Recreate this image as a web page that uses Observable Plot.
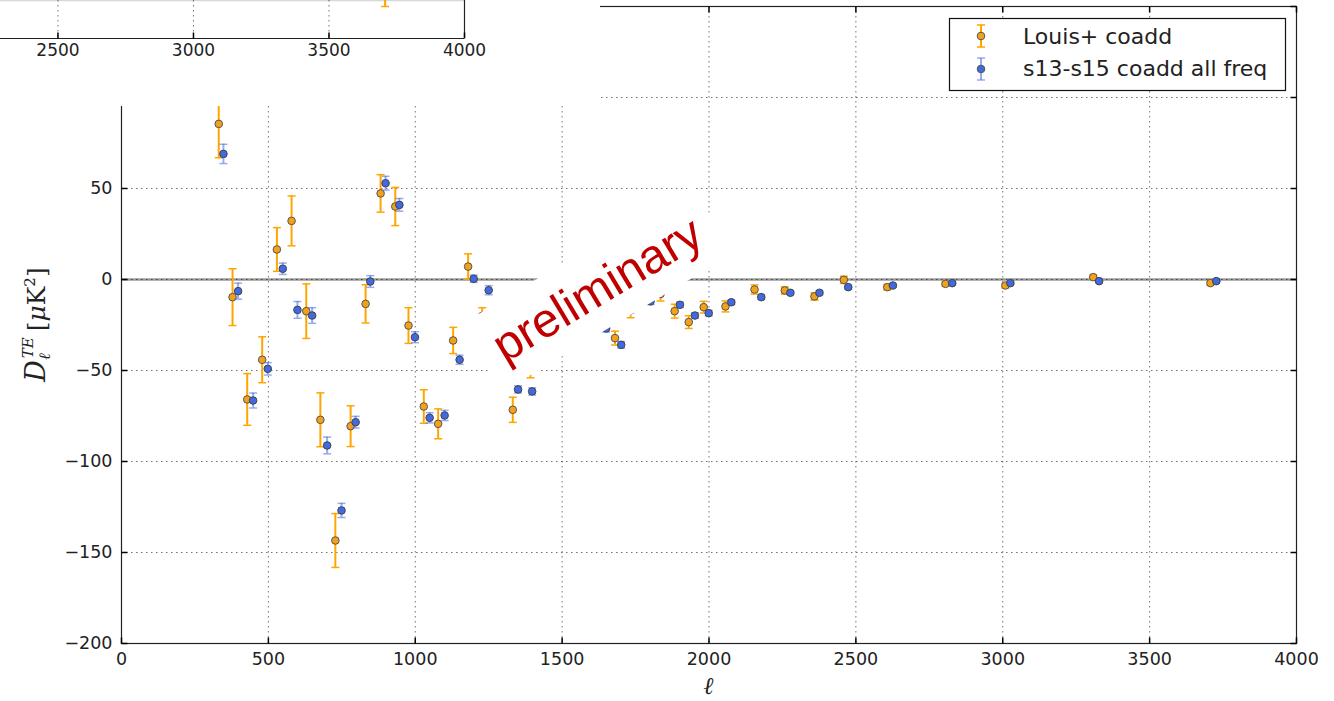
<!DOCTYPE html>
<html><head><meta charset="utf-8">
<script src="https://cdn.jsdelivr.net/npm/d3@7"></script>
<script src="https://cdn.jsdelivr.net/npm/@observablehq/plot@0.6"></script>
<style>
body{margin:0;background:#fff;}
#wrap{position:relative;width:1334px;height:701px;overflow:hidden;background:#fff;}
#inset{position:absolute;left:0;top:0;}
</style></head><body><div id="wrap"></div>
<script>
// ---- data ----
const seriesNames = ["Louis+ coadd", "s13-s15 coadd all freq"];
const louisEll = [331,378,428,479,529,579,629,677,728,780,831,882,932,977,1029,1078,1129,1180,1228,1332,1392,1680,1733,1835,1883,1931,1982,2056,2155,2258,2359,2459,2607,2805,3009,3308,3707];
const louisVal = [85.5,-9.7,-65.9,-44.1,16.5,32.2,-17.4,-77.1,-143.4,-80.6,-13.4,47.3,40.1,-25.3,-69.8,-79.3,-33.5,7.1,-20,-71.6,-47.5,-32.2,-17,-8,-17.4,-23.4,-15.2,-14.8,-5.5,-6.0,-9.3,-0.2,-4.2,-2.4,-3.3,1.3,-2.0];
const louisErr = [18.6,15.6,14.2,12.6,12,13.7,15,14.8,14.8,11.2,10.5,10.3,10.5,9.8,9.2,8.2,7.2,7,4.5,6.9,6.5,3.8,4,3.8,3.8,3.5,3.2,3,2.5,2,2,2,1.5,1.3,1.3,1.2,1.2];
const s13Ell = [347,397,448,498,549,599,649,700,749,797,847,899,946,999,1049,1100,1151,1199,1250,1350,1398,1650,1701,1801,1901,1952,1999,2076,2178,2277,2376,2474,2626,2828,3026,3328,3727];
const s13Val = [69,-6.4,-66.5,-49.1,5.9,-16.7,-19.8,-91.2,-126.9,-78.4,-1.1,52.9,41,-31.7,-76,-74.7,-44.1,0.4,-5.9,-60.4,-61.5,-26.9,-35.9,-12,-13.9,-19.8,-18.5,-12.5,-9.7,-7.3,-7.3,-4.2,-3.3,-2.0,-2.0,-0.9,-0.9];
const s13Err = [5.3,4.4,4.1,3.4,3.1,4.6,4.3,4.6,3.9,3.2,3.2,3.8,3.5,3,2.8,2.8,2.5,2,2.5,2,2,2,1.8,1.8,1.5,1.5,1.5,1.2,1.2,1,1,1,0.8,0.8,0.7,0.7,0.7];
const xTicks = [0,500,1000,1500,2000,2500,3000,3500,4000];
const yTicks = [-200,-150,-100,-50,0,50,100,150];
const yTickLabels = [-200,-150,-100,-50,0,50];
const stamp = [{ell: 1621, value: -5.7, label: "preliminary"}];
// inset (bottom strip of another panel)
const insetTicks = [2500,3000,3500,4000];
const insetEll = [3707];
const insetLow = [-3.2];
const insetHigh = [-0.8];

const louis = louisEll.map((l,i)=>({ell:l, v:louisVal[i], e:louisErr[i]}));
const s13 = s13Ell.map((l,i)=>({ell:l, v:s13Val[i], e:s13Err[i]}));
const insetData = insetEll.map((l,i)=>({ell:l, lo:insetLow[i], hi:insetHigh[i]}));

const ORANGE = "#ffa500", ORANGE_FACE = "#f4a11a", BLUE = "#4169e1";
const fmt = d => d < 0 ? "\u2212" + Math.abs(d) : String(d);
const rad = s => Math.sqrt(s/Math.PI);
const capSym = {draw(c,s){const r=rad(s); c.moveTo(-r,0); c.lineTo(r,0);}};
const tickUp = {draw(c,s){const r=rad(s); c.moveTo(0,0); c.lineTo(0,-r);}};
const tickDown = {draw(c,s){const r=rad(s); c.moveTo(0,0); c.lineTo(0,r);}};
const tickRight = {draw(c,s){const r=rad(s); c.moveTo(0,0); c.lineTo(r,0);}};
const tickLeft = {draw(c,s){const r=rad(s); c.moveTo(0,0); c.lineTo(-r,0);}};
const grid = {stroke:"#000", strokeOpacity:0.55, strokeWidth:1, strokeDasharray:"1.5,3.5"};

function errorMarks(data, color, barOpacity){
  return [
    Plot.ruleX(data, {x:"ell", y1:d=>d.v-d.e, y2:d=>d.v+d.e, stroke:color, strokeOpacity:barOpacity, strokeWidth:2}),
    Plot.dot(data, {x:"ell", y:d=>d.v-d.e, symbol:capSym, r:4, fill:"none", stroke:color, strokeOpacity:barOpacity, strokeWidth:1.5}),
    Plot.dot(data, {x:"ell", y:d=>d.v+d.e, symbol:capSym, r:4, fill:"none", stroke:color, strokeOpacity:barOpacity, strokeWidth:1.5})
  ];
}

const plot = Plot.plot({
  width: 1334, height: 701,
  marginLeft: 121, marginRight: 38, marginTop: 6, marginBottom: 58,
  style: {fontFamily: "DejaVu Sans", fontSize: "17.5px", color: "#222", background: "white"},
  x: {domain: [0,4000], ticks: xTicks, tickSize: 0, tickPadding: 9, tickFormat: fmt, label: null},
  y: {domain: [-200,150], ticks: yTickLabels, tickSize: 0, tickPadding: 9, tickFormat: fmt, label: null},
  marks: [
    Plot.ruleY([0], {stroke:"#9a9a9a", strokeWidth:2.5}),
    Plot.ruleX(xTicks, grid),
    Plot.ruleY(yTicks, grid),
    Plot.frame({stroke:"#222", strokeWidth:1.2}),
    Plot.dot(xTicks, {x:d=>d, frameAnchor:"bottom", symbol:tickUp, r:6, fill:"none", stroke:"#000"}),
    Plot.dot(xTicks, {x:d=>d, frameAnchor:"top", symbol:tickDown, r:6, fill:"none", stroke:"#000"}),
    Plot.dot(yTicks, {y:d=>d, frameAnchor:"left", symbol:tickRight, r:6, fill:"none", stroke:"#000"}),
    Plot.dot(yTicks, {y:d=>d, frameAnchor:"right", symbol:tickLeft, r:6, fill:"none", stroke:"#000"}),
    ...errorMarks(louis, ORANGE, 1),
    Plot.dot(louis, {x:"ell", y:"v", r:3.8, fill:ORANGE_FACE, stroke:"#555", strokeWidth:1}),
    ...errorMarks(s13, BLUE, 0.55),
    Plot.dot(s13, {x:"ell", y:"v", r:3.8, fill:BLUE, stroke:"#444", strokeWidth:1}),
    Plot.text(stamp, {x:"ell", y:"value", text:"label", rotate:-31, fontSize:48, fontFamily:"Liberation Sans", fill:"#c00000"})
  ]
});
const wrap = document.getElementById("wrap");
wrap.appendChild(plot);
const svg = d3.select(plot);
const X = plot.scale("x"), Y = plot.scale("y");

// white box behind the stamp text
const txt = svg.select('g[aria-label="text"] text').node();
if (txt) {
  const bb = txt.getBBox();
  const r = document.createElementNS("http://www.w3.org/2000/svg","rect");
  r.setAttribute("x", bb.x - 17.5); r.setAttribute("y", bb.y - 13);
  r.setAttribute("width", bb.width + 35); r.setAttribute("height", bb.height + 26);
  r.setAttribute("fill", "white");
  if (txt.getAttribute("transform")) r.setAttribute("transform", txt.getAttribute("transform"));
  txt.parentNode.insertBefore(r, txt);
}

// axis labels
svg.append("text").attr("x", X.apply(2000)).attr("y", 694).attr("text-anchor","middle")
  .style("font-family","DejaVu Serif").style("font-style","italic").style("font-size","24px").attr("fill","#222").text("\u2113");
const yl = svg.append("text").attr("transform", `translate(45,${Y.apply(-25)}) rotate(-90)`)
  .attr("text-anchor","middle").style("font-family","DejaVu Serif").style("font-size","25px").attr("fill","#222");
yl.append("tspan").style("font-style","italic").style("font-size","27px").text("D");
yl.append("tspan").style("font-style","italic").style("font-size","16px").attr("dy", 5).text("\u2113");
yl.append("tspan").style("font-style","italic").style("font-size","15px").attr("dx", -5).attr("dy", -17).text("TE");
yl.append("tspan").attr("dy", 12).attr("dx", 6).text("[");
yl.append("tspan").style("font-style","italic").text("\u03bc");
yl.append("tspan").text("K");
yl.append("tspan").style("font-size","15px").attr("dy", -10).text("2");
yl.append("tspan").attr("dy", 10).text("]");

// legend
const lg = svg.append("g").attr("text-anchor","start");
lg.append("rect").attr("x",949.5).attr("y",18.5).attr("width",336).attr("height",72).attr("fill","white").attr("stroke","#111").attr("stroke-width",1.2);
[[ORANGE, ORANGE_FACE, 1, 36, 43.5], [BLUE, BLUE, 0.55, 69, 76]].forEach(([c, face, op, cy, by], i) => {
  lg.append("line").attr("x1",981).attr("x2",981).attr("y1",cy-11).attr("y2",cy+11).attr("stroke",c).attr("stroke-opacity",op).attr("stroke-width",2);
  [cy-11, cy+11].forEach(yy => lg.append("line").attr("x1",977).attr("x2",985).attr("y1",yy).attr("y2",yy).attr("stroke",c).attr("stroke-opacity",op).attr("stroke-width",1.5));
  lg.append("circle").attr("cx",981).attr("cy",cy).attr("r",3.8).attr("fill",face).attr("stroke","#555");
  lg.append("text").attr("x",1023).attr("y",by).attr("text-anchor","start").style("font-family","DejaVu Sans").style("font-size","22px").attr("fill","#222").text(seriesNames[i]);
});

// inset strip (bottom of another panel) overlaid at top-left
const inset = Plot.plot({
  width: 600, height: 106, marginLeft: 0, marginRight: 136, marginTop: 0, marginBottom: 68,
  style: {fontFamily: "DejaVu Sans", fontSize: "17px", color: "#222", background: "white", overflow: "hidden"},
  x: {domain: [2288,4000], ticks: insetTicks, tickSize: 0, tickPadding: 5, tickFormat: fmt, label: null},
  y: {domain: [-4,-3.05], axis: null},
  marks: [
    Plot.ruleY([-3.05], {stroke:"#d8d8d8", strokeWidth:1.5}),
    Plot.ruleX(insetTicks, grid),
    Plot.ruleX(insetData, {x:"ell", y1:"lo", y2:"hi", stroke:ORANGE, strokeWidth:2}),
    Plot.dot(insetData, {x:"ell", y:"lo", symbol:capSym, r:4, fill:"none", stroke:ORANGE, strokeWidth:1.5}),
    Plot.ruleY([-4], {stroke:"#222", strokeWidth:1.2}),
    Plot.ruleX([4000], {stroke:"#222", strokeWidth:1.2}),
    Plot.dot(insetTicks, {x:d=>d, frameAnchor:"bottom", symbol:tickUp, r:6, fill:"none", stroke:"#000"})
  ]
});
inset.id = "inset";
wrap.appendChild(inset);
</script></body></html>
